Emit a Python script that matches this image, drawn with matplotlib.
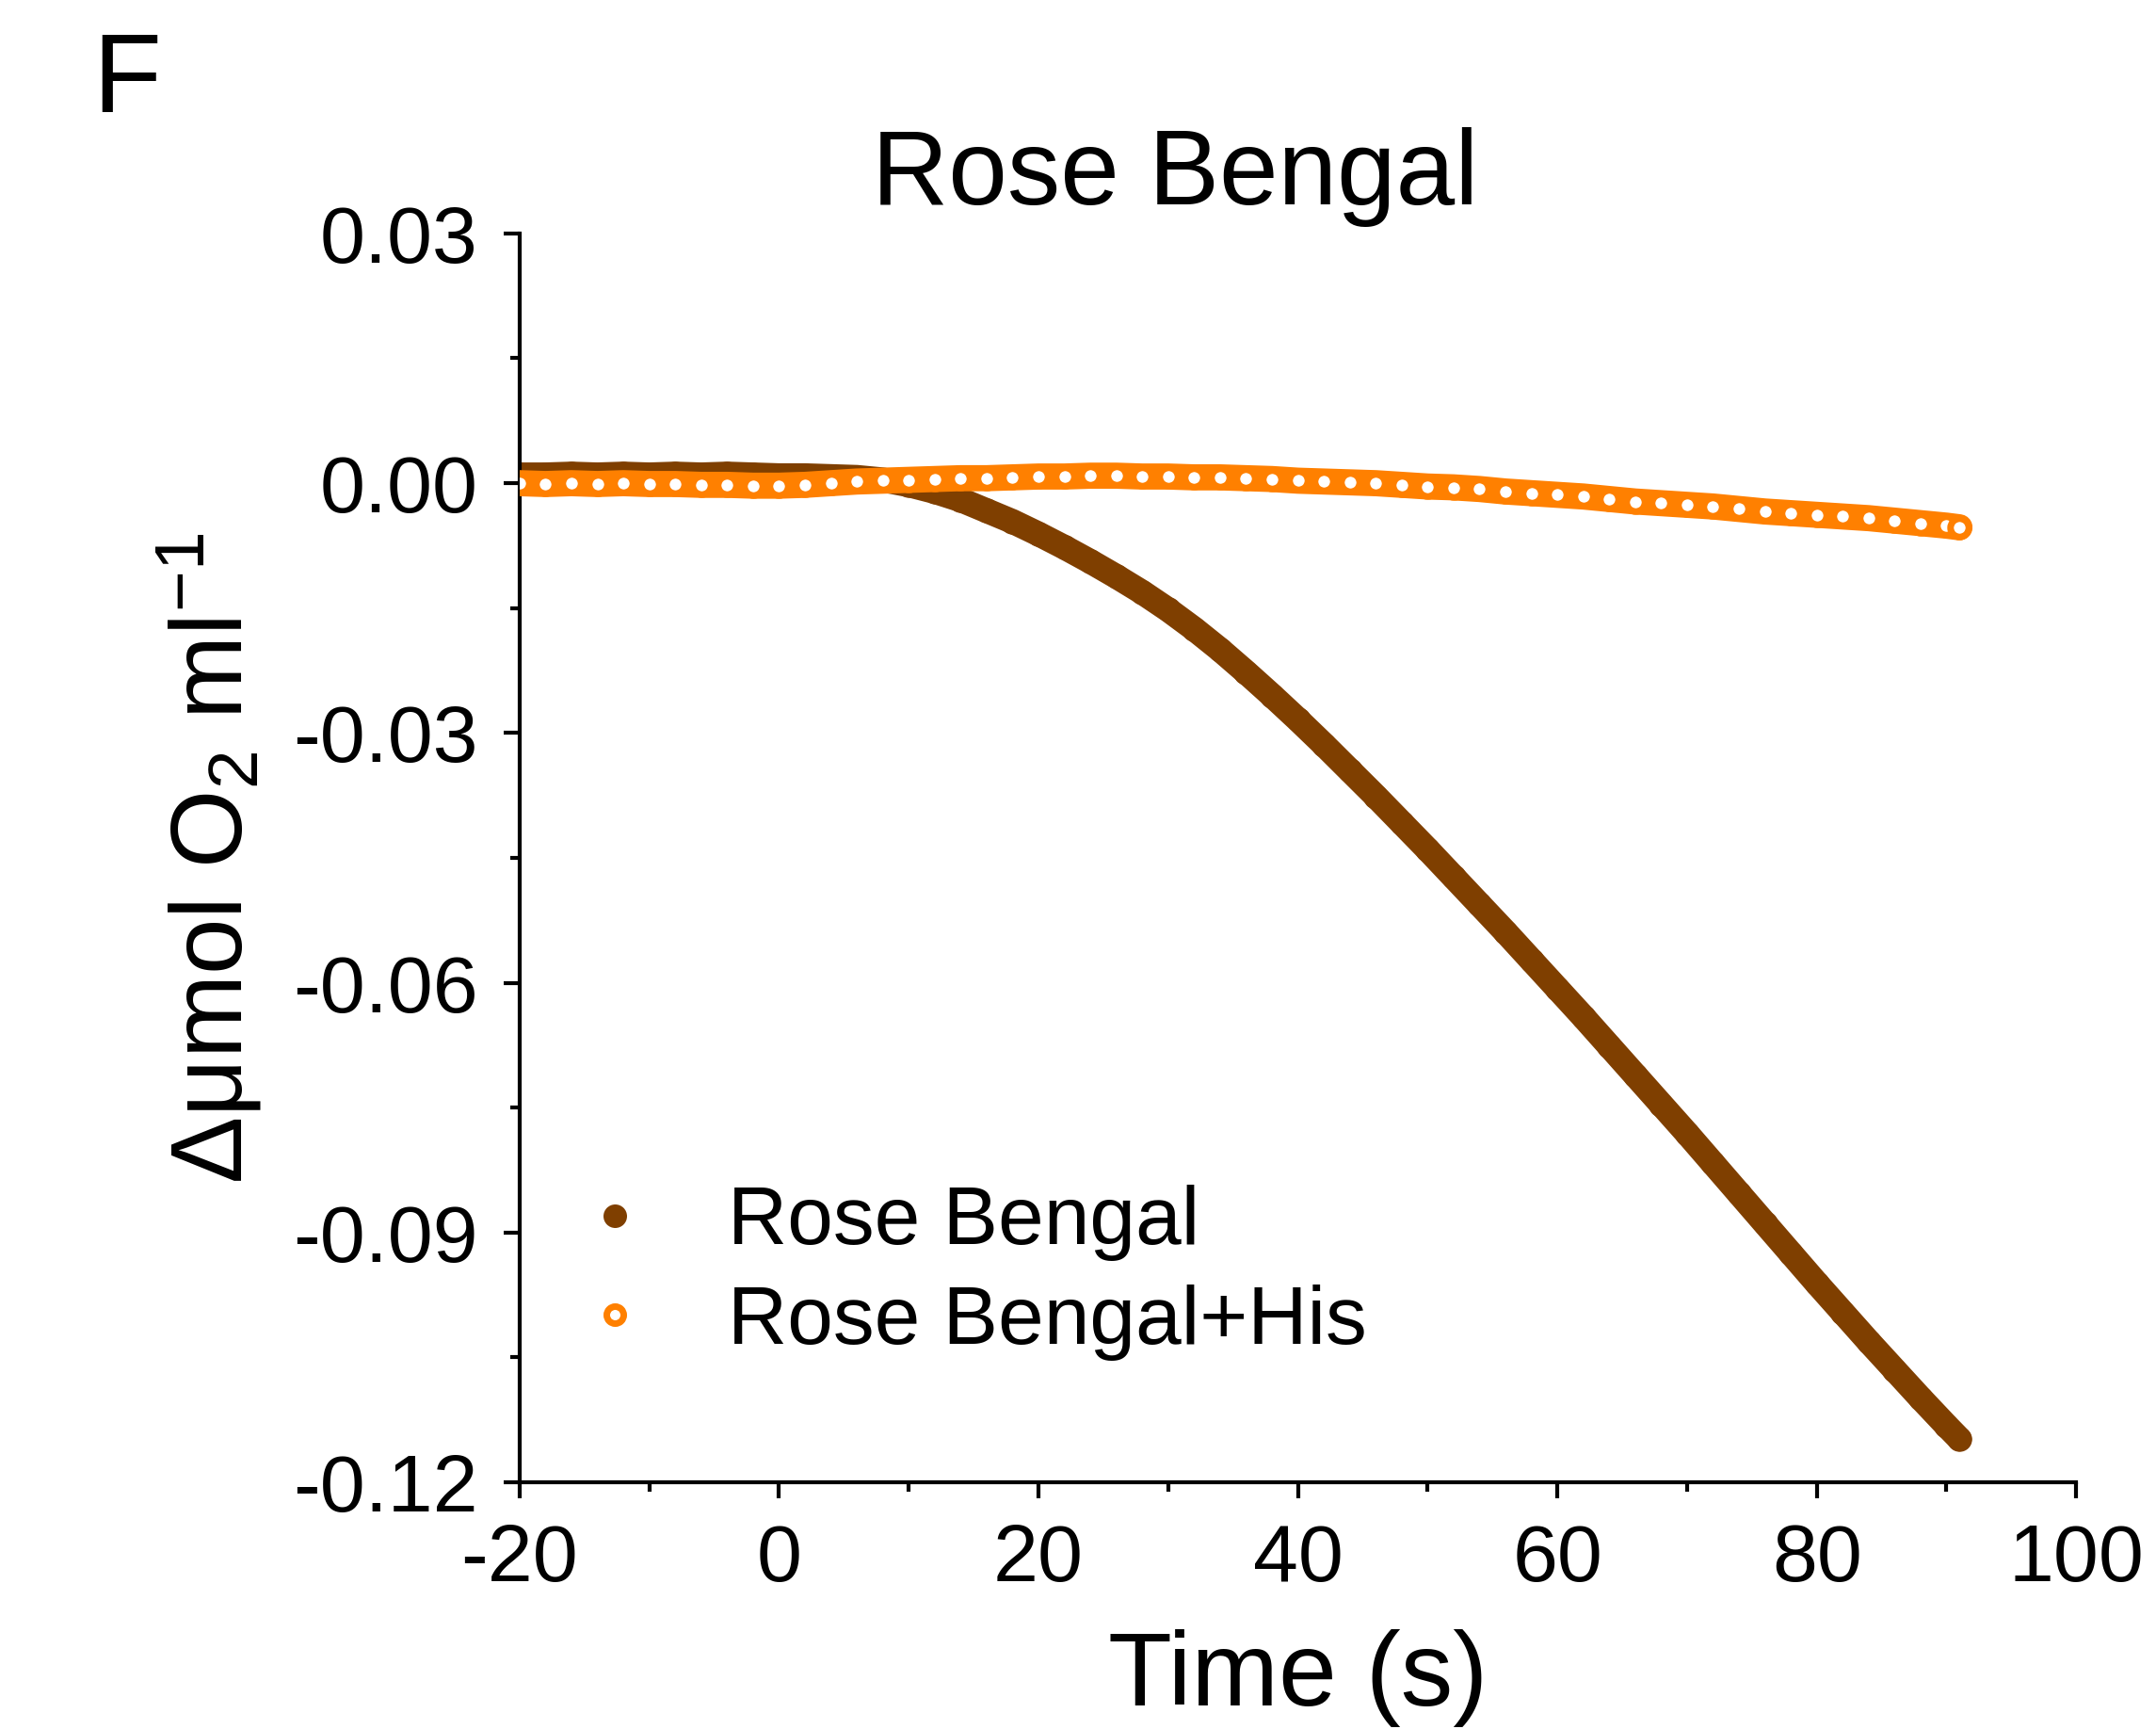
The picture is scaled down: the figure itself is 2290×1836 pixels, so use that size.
import matplotlib
matplotlib.use('Agg')
import matplotlib.pyplot as plt
from matplotlib.ticker import MultipleLocator

plt.rcParams['font.family'] = ['Liberation Sans', 'DejaVu Sans']
plt.rcParams['mathtext.fontset'] = 'custom'
plt.rcParams['mathtext.rm'] = 'Liberation Sans'
plt.rcParams['mathtext.it'] = 'Liberation Sans'
plt.rcParams['axes.unicode_minus'] = False

# time points (s)
time_s = [-20, -18, -16, -14, -12, -10, -8, -6, -4, -2, 0, 2, 4, 6, 8, 10, 12, 14, 16, 18,
          20, 22, 24, 26, 28, 30, 32, 34, 36, 38, 40, 42, 44, 46, 48, 50, 52, 54, 56, 58,
          60, 62, 64, 66, 68, 70, 72, 74, 76, 78, 80, 82, 84, 86, 88, 90, 91]

# O2 change, umol/ml
rose_bengal = [0.0010, 0.0010, 0.0011, 0.0010, 0.0011, 0.0010, 0.0011, 0.0010, 0.0011, 0.0010,
               0.0009, 0.0009, 0.0008, 0.0007, 0.0004, -0.0002, -0.0010, -0.0020, -0.0033, -0.0046,
               -0.0061, -0.0077, -0.0094, -0.0112, -0.0131, -0.0152, -0.0175, -0.0200, -0.0227, -0.0255,
               -0.0284, -0.0314, -0.0345, -0.0376, -0.0408, -0.0440, -0.0473, -0.0506, -0.0539, -0.0573,
               -0.0607, -0.0641, -0.0676, -0.0711, -0.0746, -0.0781, -0.0817, -0.0853, -0.0889, -0.0925,
               -0.0961, -0.0996, -0.1031, -0.1065, -0.1099, -0.1132, -0.1148]

rose_bengal_his = [0.0000, -0.0001, 0.0000, -0.0001, 0.0000, -0.0001, -0.0001, -0.0002, -0.0002, -0.0003,
                   -0.0003, -0.0002, 0.0000, 0.0002, 0.0003, 0.0004, 0.0005, 0.0006, 0.0006, 0.0007,
                   0.0008, 0.0008, 0.0009, 0.0009, 0.0008, 0.0008, 0.0007, 0.0007, 0.0006, 0.0005,
                   0.0003, 0.0002, 0.0001, 0.0000, -0.0002, -0.0004, -0.0005, -0.0007, -0.0010, -0.0012,
                   -0.0014, -0.0016, -0.0019, -0.0022, -0.0024, -0.0026, -0.0028, -0.0031, -0.0034, -0.0036,
                   -0.0038, -0.0040, -0.0042, -0.0045, -0.0048, -0.0051, -0.0053]

brown = '#7F3F00'
orange = '#FF8000'

fig = plt.figure(figsize=(22.9, 18.36), dpi=100)
ax = fig.add_axes([0.241, 0.1427, 0.722, 0.7223])

ax.plot(time_s, rose_bengal, color=brown, lw=19, marker='o', ms=19,
        mfc=brown, mec=brown, mew=0, solid_capstyle='round', solid_joinstyle='round',
        label='Rose Bengal', zorder=2)
ax.plot(time_s, rose_bengal_his, color=orange, lw=20, marker='o', ms=14,
        mfc='white', mec=orange, mew=5, solid_capstyle='round', solid_joinstyle='round',
        label='Rose Bengal+His', zorder=3)

ax.set_xlim(-20, 100)
ax.set_ylim(-0.12, 0.03)
ax.xaxis.set_major_locator(MultipleLocator(20))
ax.xaxis.set_minor_locator(MultipleLocator(10))
ax.yaxis.set_major_locator(MultipleLocator(0.03))
ax.yaxis.set_minor_locator(MultipleLocator(0.015))
ax.yaxis.set_major_formatter(plt.FuncFormatter(lambda v, p: '%.2f' % v if abs(v) > 1e-9 else '0.00'))

for s in ['top', 'right']:
    ax.spines[s].set_visible(False)
for s in ['left', 'bottom']:
    ax.spines[s].set_linewidth(3)
ax.tick_params(which='major', direction='out', length=12, width=3, labelsize=62)
ax.tick_params(axis='x', which='major', pad=19)
ax.tick_params(axis='y', which='major', pad=20)
ax.tick_params(which='minor', direction='out', length=7, width=3)

ax.set_xlabel('Time (s)', fontsize=80, labelpad=24)
ax.set_ylabel('Δμmol O$_2$ ml$^{-1}$', fontsize=77, labelpad=22)
ax.set_title('Rose Bengal', fontsize=81, pad=22, x=0.421)

fig.text(0.043, 0.952, 'F', fontsize=86, va='center', ha='left')

leg = ax.legend(loc='center left', bbox_to_anchor=(0.008, 0.1676), frameon=False,
                fontsize=63, handlelength=1.0, handletextpad=0.88, borderpad=0,
                labelspacing=0.28, markerscale=1)
# legend keys: plain markers, no line
leg_lines = leg.get_lines()
for h in leg_lines:
    h.set_linestyle('none')
leg_lines[0].set_markersize(18)
leg_lines[1].set_markersize(13)

fig.savefig('out.png', dpi=100)
